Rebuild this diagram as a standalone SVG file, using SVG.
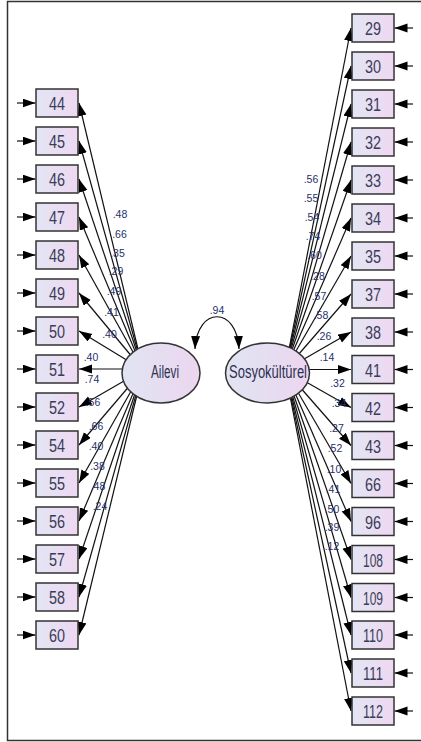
<svg xmlns="http://www.w3.org/2000/svg" width="421" height="742" viewBox="0 0 421 742">
<defs>
<linearGradient id="gb" x1="0" y1="0" x2="1" y2="0"><stop offset="0" stop-color="#e3e5f4"/><stop offset="1" stop-color="#eed8f1"/></linearGradient>
<linearGradient id="ge" x1="0" y1="0" x2="1" y2="0"><stop offset="0" stop-color="#e0e4f3"/><stop offset="1" stop-color="#ecd6ef"/></linearGradient>
<marker id="ah" markerUnits="userSpaceOnUse" markerWidth="14" markerHeight="10" refX="13" refY="4.5" orient="auto-start-reverse" viewBox="0 0 14 10"><path d="M0,0 L13,4.5 L0,9 z" fill="#000"/></marker>
<style>
.c line,.c path{stroke:#111;stroke-width:1.2;fill:none;marker-end:url(#ah)}
.c path{marker-start:url(#ah)}
.box rect{fill:url(#gb);stroke:#333;stroke-width:1.5}
.box text{font-family:"Liberation Sans",Arial,sans-serif;font-size:17.5px;fill:#3a3c58;text-anchor:middle}
.lv ellipse{fill:url(#ge);stroke:#333;stroke-width:1.5}
.lv text{font-family:"Liberation Sans",Arial,sans-serif;font-size:18px;fill:#2e3050;text-anchor:middle}
.lb{font-family:"Liberation Sans",Arial,sans-serif;font-size:10.5px;fill:#26306a;text-anchor:middle}
</style>
</defs>
<rect width="421" height="742" fill="#fff"/>
<path d="M421,1.5 H7.5 V740.5 H421" fill="none" stroke="#333" stroke-width="1.5"/>
<g id="connectors" class="c">
<line x1="17" y1="103" x2="35.5" y2="103"/><line x1="17" y1="141" x2="35.5" y2="141"/><line x1="17" y1="179" x2="35.5" y2="179"/><line x1="17" y1="217" x2="35.5" y2="217"/><line x1="17" y1="255" x2="35.5" y2="255"/><line x1="17" y1="293" x2="35.5" y2="293"/><line x1="17" y1="331" x2="35.5" y2="331"/><line x1="17" y1="369" x2="35.5" y2="369"/><line x1="17" y1="407" x2="35.5" y2="407"/><line x1="17" y1="445" x2="35.5" y2="445"/><line x1="17" y1="483" x2="35.5" y2="483"/><line x1="17" y1="521" x2="35.5" y2="521"/><line x1="17" y1="559" x2="35.5" y2="559"/><line x1="17" y1="597" x2="35.5" y2="597"/><line x1="17" y1="635" x2="35.5" y2="635"/>
<line x1="413" y1="28" x2="394.5" y2="28"/><line x1="413" y1="66" x2="394.5" y2="66"/><line x1="413" y1="104" x2="394.5" y2="104"/><line x1="413" y1="142" x2="394.5" y2="142"/><line x1="413" y1="180" x2="394.5" y2="180"/><line x1="413" y1="218" x2="394.5" y2="218"/><line x1="413" y1="256" x2="394.5" y2="256"/><line x1="413" y1="294" x2="394.5" y2="294"/><line x1="413" y1="332" x2="394.5" y2="332"/><line x1="413" y1="369.5" x2="394.5" y2="369.5"/><line x1="413" y1="407.5" x2="394.5" y2="407.5"/><line x1="413" y1="445.5" x2="394.5" y2="445.5"/><line x1="413" y1="483.5" x2="394.5" y2="483.5"/><line x1="413" y1="521.5" x2="394.5" y2="521.5"/><line x1="413" y1="559.5" x2="394.5" y2="559.5"/><line x1="413" y1="597.5" x2="394.5" y2="597.5"/><line x1="413" y1="635" x2="394.5" y2="635"/><line x1="413" y1="673" x2="394.5" y2="673"/><line x1="413" y1="711" x2="394.5" y2="711"/>
<line x1="143" y1="370" x2="79" y2="103"/><line x1="143" y1="370" x2="79" y2="141"/><line x1="143" y1="370" x2="79" y2="179"/><line x1="143" y1="370" x2="79" y2="217"/><line x1="143" y1="370" x2="79" y2="255"/><line x1="143" y1="370" x2="79" y2="293"/><line x1="143" y1="370" x2="79" y2="331"/><line x1="143" y1="369" x2="79" y2="369"/><line x1="143" y1="370" x2="79" y2="407"/><line x1="143" y1="370" x2="79" y2="445"/><line x1="143" y1="370" x2="79" y2="483"/><line x1="143" y1="370" x2="79" y2="521"/><line x1="143" y1="370" x2="79" y2="559"/><line x1="143" y1="370" x2="79" y2="597"/><line x1="143" y1="370" x2="79" y2="635"/>
<line x1="285" y1="370" x2="351" y2="28"/><line x1="285" y1="370" x2="351" y2="66"/><line x1="285" y1="370" x2="351" y2="104"/><line x1="285" y1="370" x2="351" y2="142"/><line x1="285" y1="370" x2="351" y2="180"/><line x1="285" y1="370" x2="351" y2="218"/><line x1="285" y1="370" x2="351" y2="256"/><line x1="285" y1="370" x2="351" y2="294"/><line x1="285" y1="370" x2="351" y2="332"/><line x1="285" y1="369.5" x2="351" y2="369.5"/><line x1="285" y1="370" x2="351" y2="407.5"/><line x1="285" y1="370" x2="351" y2="445.5"/><line x1="285" y1="370" x2="351" y2="483.5"/><line x1="285" y1="370" x2="351" y2="521.5"/><line x1="285" y1="370" x2="351" y2="559.5"/><line x1="285" y1="370" x2="351" y2="597.5"/><line x1="285" y1="370" x2="351" y2="635"/><line x1="285" y1="370" x2="351" y2="673"/><line x1="285" y1="370" x2="351" y2="711"/>
<path d="M195,349 C197,306 237,306 239,349"/>
</g>
<g id="labels">
<text class="lb" x="217" y="314">.94</text>
<text class="lb" x="120" y="218">.48</text><text class="lb" x="119.5" y="238">.66</text><text class="lb" x="117.5" y="257">.35</text><text class="lb" x="116" y="275">.29</text><text class="lb" x="114" y="295">.49</text><text class="lb" x="111.5" y="316">.41</text><text class="lb" x="109.5" y="338">.40</text>
<text class="lb" x="91" y="361">.40</text><text class="lb" x="92" y="383">.74</text><text class="lb" x="93" y="406">.56</text><text class="lb" x="96" y="430">.66</text><text class="lb" x="96" y="450">.40</text><text class="lb" x="97.5" y="470">.38</text><text class="lb" x="98" y="490">.48</text><text class="lb" x="100" y="510">.24</text>
<text class="lb" x="311" y="183">.56</text><text class="lb" x="311" y="202">.55</text><text class="lb" x="312" y="221">.54</text><text class="lb" x="313" y="240">.74</text><text class="lb" x="314.5" y="259">.60</text><text class="lb" x="317.5" y="280">.28</text><text class="lb" x="319" y="300">.57</text><text class="lb" x="321" y="319">.58</text><text class="lb" x="324" y="340">.26</text><text class="lb" x="327" y="361">.14</text>
<text class="lb" x="337.5" y="387">.32</text><text class="lb" x="339" y="407">.34</text><text class="lb" x="336.5" y="432">.27</text><text class="lb" x="335" y="452">.52</text><text class="lb" x="334" y="473">.10</text><text class="lb" x="333" y="493">.41</text><text class="lb" x="332" y="513">.50</text><text class="lb" x="332" y="531">.39</text><text class="lb" x="332" y="550">.12</text>
</g>
<g id="Ailevi" class="lv"><ellipse cx="161" cy="373" rx="39" ry="30"/><text x="165" y="378" textLength="28" lengthAdjust="spacingAndGlyphs">Ailevi</text></g>
<g id="Sosyokulturel" class="lv"><ellipse cx="267.5" cy="373" rx="42" ry="30"/><text x="268" y="378" textLength="78" lengthAdjust="spacingAndGlyphs">Sosyokültürel</text></g>
<g id="v44" class="box"><rect x="36" y="89" width="42" height="28"/><text x="57" y="110" textLength="16" lengthAdjust="spacingAndGlyphs">44</text></g>
<g id="v45" class="box"><rect x="36" y="127" width="42" height="28"/><text x="57" y="148" textLength="16" lengthAdjust="spacingAndGlyphs">45</text></g>
<g id="v46" class="box"><rect x="36" y="165" width="42" height="28"/><text x="57" y="186" textLength="16" lengthAdjust="spacingAndGlyphs">46</text></g>
<g id="v47" class="box"><rect x="36" y="203" width="42" height="28"/><text x="57" y="224" textLength="16" lengthAdjust="spacingAndGlyphs">47</text></g>
<g id="v48" class="box"><rect x="36" y="241" width="42" height="28"/><text x="57" y="262" textLength="16" lengthAdjust="spacingAndGlyphs">48</text></g>
<g id="v49" class="box"><rect x="36" y="279" width="42" height="28"/><text x="57" y="300" textLength="16" lengthAdjust="spacingAndGlyphs">49</text></g>
<g id="v50" class="box"><rect x="36" y="317" width="42" height="28"/><text x="57" y="338" textLength="16" lengthAdjust="spacingAndGlyphs">50</text></g>
<g id="v51" class="box"><rect x="36" y="355" width="42" height="28"/><text x="57" y="376" textLength="16" lengthAdjust="spacingAndGlyphs">51</text></g>
<g id="v52" class="box"><rect x="36" y="393" width="42" height="28"/><text x="57" y="414" textLength="16" lengthAdjust="spacingAndGlyphs">52</text></g>
<g id="v54" class="box"><rect x="36" y="431" width="42" height="28"/><text x="57" y="452" textLength="16" lengthAdjust="spacingAndGlyphs">54</text></g>
<g id="v55" class="box"><rect x="36" y="469" width="42" height="28"/><text x="57" y="490" textLength="16" lengthAdjust="spacingAndGlyphs">55</text></g>
<g id="v56" class="box"><rect x="36" y="507" width="42" height="28"/><text x="57" y="528" textLength="16" lengthAdjust="spacingAndGlyphs">56</text></g>
<g id="v57" class="box"><rect x="36" y="545" width="42" height="28"/><text x="57" y="566" textLength="16" lengthAdjust="spacingAndGlyphs">57</text></g>
<g id="v58" class="box"><rect x="36" y="583" width="42" height="28"/><text x="57" y="604" textLength="16" lengthAdjust="spacingAndGlyphs">58</text></g>
<g id="v60" class="box"><rect x="36" y="621" width="42" height="28"/><text x="57" y="642" textLength="16" lengthAdjust="spacingAndGlyphs">60</text></g>
<g id="v29" class="box"><rect x="352" y="14" width="42" height="28"/><text x="373" y="35" textLength="16" lengthAdjust="spacingAndGlyphs">29</text></g>
<g id="v30" class="box"><rect x="352" y="52" width="42" height="28"/><text x="373" y="73" textLength="16" lengthAdjust="spacingAndGlyphs">30</text></g>
<g id="v31" class="box"><rect x="352" y="90" width="42" height="28"/><text x="373" y="111" textLength="16" lengthAdjust="spacingAndGlyphs">31</text></g>
<g id="v32" class="box"><rect x="352" y="128" width="42" height="28"/><text x="373" y="149" textLength="16" lengthAdjust="spacingAndGlyphs">32</text></g>
<g id="v33" class="box"><rect x="352" y="166" width="42" height="28"/><text x="373" y="187" textLength="16" lengthAdjust="spacingAndGlyphs">33</text></g>
<g id="v34" class="box"><rect x="352" y="204" width="42" height="28"/><text x="373" y="225" textLength="16" lengthAdjust="spacingAndGlyphs">34</text></g>
<g id="v35" class="box"><rect x="352" y="242" width="42" height="28"/><text x="373" y="263" textLength="16" lengthAdjust="spacingAndGlyphs">35</text></g>
<g id="v37" class="box"><rect x="352" y="280" width="42" height="28"/><text x="373" y="301" textLength="16" lengthAdjust="spacingAndGlyphs">37</text></g>
<g id="v38" class="box"><rect x="352" y="318" width="42" height="28"/><text x="373" y="339" textLength="16" lengthAdjust="spacingAndGlyphs">38</text></g>
<g id="v41" class="box"><rect x="352" y="355.5" width="42" height="28"/><text x="373" y="376.5" textLength="16" lengthAdjust="spacingAndGlyphs">41</text></g>
<g id="v42" class="box"><rect x="352" y="393.5" width="42" height="28"/><text x="373" y="414.5" textLength="16" lengthAdjust="spacingAndGlyphs">42</text></g>
<g id="v43" class="box"><rect x="352" y="431.5" width="42" height="28"/><text x="373" y="452.5" textLength="16" lengthAdjust="spacingAndGlyphs">43</text></g>
<g id="v66" class="box"><rect x="352" y="469.5" width="42" height="28"/><text x="373" y="490.5" textLength="16" lengthAdjust="spacingAndGlyphs">66</text></g>
<g id="v96" class="box"><rect x="352" y="507.5" width="42" height="28"/><text x="373" y="528.5" textLength="16" lengthAdjust="spacingAndGlyphs">96</text></g>
<g id="v108" class="box"><rect x="352" y="545.5" width="42" height="28"/><text x="373" y="566.5" textLength="20" lengthAdjust="spacingAndGlyphs">108</text></g>
<g id="v109" class="box"><rect x="352" y="583.5" width="42" height="28"/><text x="373" y="604.5" textLength="20" lengthAdjust="spacingAndGlyphs">109</text></g>
<g id="v110" class="box"><rect x="352" y="621" width="42" height="28"/><text x="373" y="642" textLength="20" lengthAdjust="spacingAndGlyphs">110</text></g>
<g id="v111" class="box"><rect x="352" y="659" width="42" height="28"/><text x="373" y="680" textLength="20" lengthAdjust="spacingAndGlyphs">111</text></g>
<g id="v112" class="box"><rect x="352" y="697" width="42" height="28"/><text x="373" y="718" textLength="20" lengthAdjust="spacingAndGlyphs">112</text></g>
</svg>
